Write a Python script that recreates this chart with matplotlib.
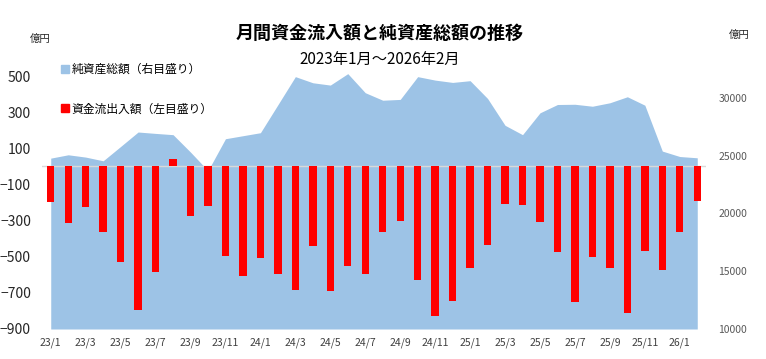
import numpy as np
import matplotlib.pyplot as plt
from matplotlib.patches import Patch

plt.rcParams['font.family'] = ['Noto Sans CJK JP', 'DejaVu Sans']

# 月次 2023/1 ～ 2026/2
months = ['23/1', '23/2', '23/3', '23/4', '23/5', '23/6', '23/7', '23/8', '23/9', '23/10',
          '23/11', '23/12', '24/1', '24/2', '24/3', '24/4', '24/5', '24/6', '24/7', '24/8',
          '24/9', '24/10', '24/11', '24/12', '25/1', '25/2', '25/3', '25/4', '25/5', '25/6',
          '25/7', '25/8', '25/9', '25/10', '25/11', '25/12', '26/1', '26/2']

# 資金流出入額（億円, 左目盛り）
flows = [-197, -313, -225, -365, -529, -794, -582, 42, -275, -219,
         -497, -604, -505, -593, -685, -440, -689, -551, -597, -365,
         -302, -626, -827, -744, -564, -433, -208, -214, -306, -475,
         -748, -503, -564, -814, -466, -573, -361, -192]

# 純資産総額（億円, 右目盛り）
assets = [24780, 25070, 24870, 24550, 25790, 27040, 26920, 26810, 25300, 23700,
          26460, 26720, 26980, 29400, 31830, 31300, 31100, 32090, 30440, 29790,
          29860, 31830, 31530, 31330, 31480, 29940, 27620, 26810, 28700, 29420,
          29440, 29270, 29570, 30090, 29360, 25390, 24920, 24810]

left_ticks = [-900, -700, -500, -300, -100, 100, 300, 500]
right_ticks = [10000, 15000, 20000, 25000, 30000]

x = np.arange(len(months))

fig = plt.figure(figsize=(7.66, 3.59), dpi=100)
ax = fig.add_axes([42/766, 1-329/359, (706-42)/766, (329-40)/359])
ax2 = ax.twinx()

# 面グラフ（右軸）
ax2.fill_between(x, 10000, assets, color='#9dc3e6', lw=0)
ax2.set_ylim(10000, 35000)
ax2.set_yticks(right_ticks)
ax2.tick_params(axis='y', length=0, pad=9, labelsize=7.5, labelcolor='#595959')

# 棒グラフ（左軸）を前面に
ax.set_zorder(ax2.get_zorder() + 1)
ax.patch.set_visible(False)
ax.axhline(0, color='#d9d9d9', lw=1, zorder=1)
ax.bar(x, flows, width=0.42, color='#ff0000', zorder=2)
ax.set_ylim(-900, 700)
ax.set_xlim(-0.5, len(months) - 0.5)
ax.set_yticks(left_ticks)
ax.tick_params(axis='y', length=0, pad=8, labelsize=10, labelcolor='#262626')
ax.set_xticks(x[::2])
ax.set_xticklabels(months[::2])
ax.tick_params(axis='x', length=0, pad=6, labelsize=7.5, labelcolor='#404040')

for a in (ax, ax2):
    for s in a.spines.values():
        s.set_visible(False)

fig.text(380/766, 1-33/359, '月間資金流入額と純資産総額の推移', ha='center', va='center',
         fontsize=13, fontweight='bold')
fig.text(380/766, 1-59/359, '2023年1月～2026年2月', ha='center', va='center', fontsize=11)
fig.text(40/766, 1-39/359, '億円', ha='center', va='center', fontsize=7.5, color='#262626')
fig.text(739/766, 1-35/359, '億円', ha='center', va='center', fontsize=7.5, color='#262626')

handles = [Patch(color='#9dc3e6', label='純資産総額（右目盛り）'),
           Patch(color='#ff0000', label='資金流出入額（左目盛り）')]
fig.legend(handles=handles, loc='upper left', bbox_to_anchor=(61/766, 1-63/359),
           frameon=False, fontsize=8.5, handlelength=0.65, handleheight=0.65,
           handletextpad=0.25, labelspacing=2.25, borderaxespad=0, borderpad=0)

fig.savefig('out.png', dpi=100)
